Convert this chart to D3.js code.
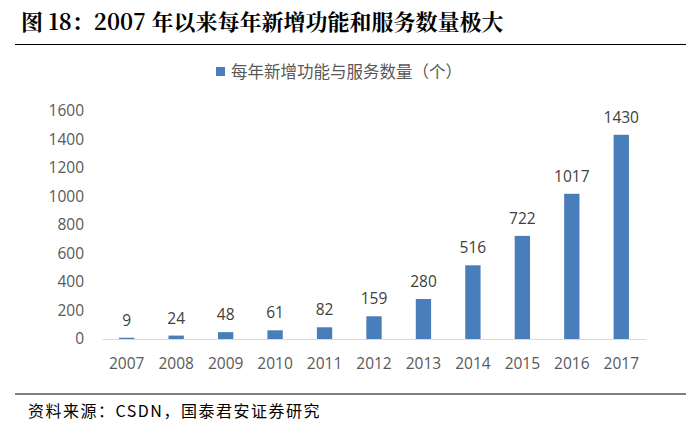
<!DOCTYPE html>
<html><head><meta charset="utf-8">
<script src="https://cdn.jsdelivr.net/npm/d3@7"></script>
<style>body{margin:0;background:#fff;} svg{display:block;}</style>
</head><body>
<svg id="c" width="700" height="425"></svg>
<script>
const years = ["2007","2008","2009","2010","2011","2012","2013","2014","2015","2016","2017"];
const values = [9,24,48,61,82,159,280,516,722,1017,1430];
const yTicks = [0,200,400,600,800,1000,1200,1400,1600];
const title = "图 18：2007 年以来每年新增功能和服务数量极大";
const legendLabel = "每年新增功能与服务数量（个）";
const source = "资料来源：CSDN，国泰君安证券研究";

const svg = d3.select("#c");
const barColor = "#4A7EBB";
const textColor = "#595959";
const numFont = "'Open Sans', 'Noto Sans', sans-serif";

// title
svg.append("text").attr("x", 21).attr("y", 30)
  .attr("font-family", "'Noto Serif CJK SC','Noto Sans CJK SC', serif")
  .attr("font-weight", "bold").attr("font-size", 22).attr("fill", "#000")
  .text(title);
svg.append("line").attr("x1", 15).attr("x2", 686).attr("y1", 44.5).attr("y2", 44.5)
  .attr("stroke", "#000").attr("stroke-width", 1);

// legend
svg.append("rect").attr("x", 216).attr("y", 67).attr("width", 9).attr("height", 9).attr("fill", barColor);
svg.append("text").attr("x", 231).attr("y", 78)
  .attr("font-family", "'Noto Sans CJK SC', sans-serif").attr("font-size", 16.5)
  .attr("fill", textColor).text(legendLabel);

const x = d3.scaleBand().domain(years).range([102, 646]).paddingInner(0.69).paddingOuter(0.345);
const y = d3.scaleLinear().domain([0, 1600]).range([339, 110.5]);

// y axis labels
const yAxis = d3.axisLeft(y).tickValues(yTicks).tickFormat(d3.format("d")).tickSize(0).tickPadding(0);
const gy = svg.append("g").attr("transform", "translate(84,0)").call(yAxis);
gy.select(".domain").remove();
gy.selectAll("text").attr("font-family", numFont).attr("font-size", 15.5).attr("fill", textColor);

// bars
svg.append("g").selectAll("rect").data(values).join("rect")
  .attr("x", (d,i) => x(years[i]))
  .attr("y", d => y(d))
  .attr("width", x.bandwidth())
  .attr("height", d => y(0) - y(d))
  .attr("fill", barColor);

// x axis
const xAxis = d3.axisBottom(x).tickSize(0).tickPadding(19);
const gx = svg.append("g").attr("transform", `translate(0,${y(0)})`).call(xAxis);
gx.select(".domain").attr("stroke", "#D9D9D9").attr("stroke-width", 1.2);
gx.selectAll("text").attr("font-family", numFont).attr("font-size", 15.5).attr("fill", textColor);

// value labels
svg.append("g").selectAll("text").data(values).join("text")
  .attr("x", (d,i) => x(years[i]) + x.bandwidth()/2)
  .attr("y", d => y(d) - 12)
  .attr("text-anchor", "middle")
  .attr("font-family", numFont).attr("font-size", 15.5).attr("fill", "#404040")
  .text(d => d);

// footer
svg.append("line").attr("x1", 15).attr("x2", 686).attr("y1", 394).attr("y2", 394)
  .attr("stroke", "#808080").attr("stroke-width", 2);
svg.append("text").attr("x", 28).attr("y", 417)
  .attr("font-family", "'Noto Sans CJK SC', sans-serif").attr("font-size", 16)
  .attr("letter-spacing", 1.5).attr("fill", "#000").text(source);
</script>
</body></html>
